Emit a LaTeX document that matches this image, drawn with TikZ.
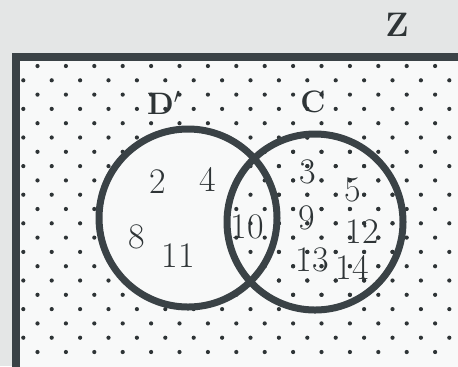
\documentclass[tikz,border=0pt]{standalone}
\usepackage{tikz}
\usetikzlibrary{positioning}
\definecolor{vnback}{HTML}{E4E6E6}
\definecolor{vnpaper}{HTML}{F8F9F9}
\definecolor{vnink}{HTML}{3A4246}
\definecolor{vndot}{HTML}{2E3436}

% staggered dot shading
\newcommand{\vndots}{%
  \foreach \i in {0,...,20}
    \foreach \j in {0,...,16} {
      \pgfmathsetmacro{\dx}{37.5-14.2*mod(\i,2)+28.4*\j}
      \fill[vndot] (\dx,66+14.3*\i) circle[radius=1.05pt];
    }}

\begin{document}
\begin{tikzpicture}[x=0.5pt,y=-0.5pt,
    venn/.style={circle, draw=vnink, line width=3.5pt, minimum size=#1, inner sep=0pt},
    num/.style={text=vndot, font=\fontsize{18}{21}\selectfont},
    setname/.style={text=vndot, font=\fontsize{15.5}{18}\selectfont\bfseries}]
  \useasboundingbox (0,0) rectangle (458,366);
  \clip (0,0) rectangle (458,366);
  \fill[vnback] (0,0) rectangle (458,366);
  % frame
  \filldraw[fill=vnpaper, draw=vnink, line width=4pt] (16,56.5) rectangle (480,390);
  \vndots
  % D' is left blank, the lens keeps its dots
  \fill[vnpaper] (188,218) circle[radius=89];
  \begin{scope}
    \clip (315,222) circle[radius=88];
    \vndots
  \end{scope}
  \node[venn=89pt] (D) at (188,218) {};
  \node[venn=88pt] (C) at (315,222) {};
  % labels
  \node[text=vndot, font=\fontsize{17}{20}\selectfont\bfseries] (lblZ) at (397,25) {Z};
  \node[setname] (lblD) at (164,103) {D$'$};
  \node[setname] (lblC) at (313,102) {C};
  \foreach \v/\px/\py in {2/158/182, 4/208/179, 8/137/237, 11/178/256, 10/247/227,
      3/308/172, 5/353/190, 9/307/218, 12/362/232, 13/312/260, 14/352/267}
    \node[num] (n\v) at (\px,\py) {\v};
\end{tikzpicture}
\end{document}
